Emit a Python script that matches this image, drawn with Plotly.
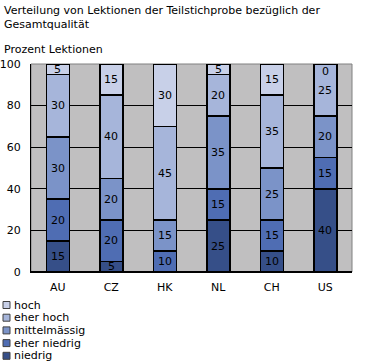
import plotly.graph_objects as go

countries = ["AU", "CZ", "HK", "NL", "CH", "US"]
series_names = ["niedrig", "eher niedrig", "mittelmässig", "eher hoch", "hoch"]
niedrig = [15, 5, 0, 25, 10, 40]
eher_niedrig = [20, 20, 10, 15, 15, 15]
mittelmaessig = [30, 20, 15, 35, 25, 20]
eher_hoch = [30, 40, 45, 20, 35, 25]
hoch = [5, 15, 30, 5, 15, 0]
series_values = [niedrig, eher_niedrig, mittelmaessig, eher_hoch, hoch]
colors = ["#364F88", "#4F6DB3", "#7B93C8", "#A6B5DA", "#C8D0E8"]
y_ticks = [0, 20, 40, 60, 80, 100]

FONT = "DejaVu Sans"
FS = 11

W, H = 367, 362
ML, MR, MT, MB = 31, 15, 64, 90
PH = H - MT - MB
PW = W - ML - MR

fig = go.Figure()
for name, vals, col in zip(series_names, series_values, colors):
    fig.add_trace(go.Bar(
        x=countries, y=vals, name=name,
        marker=dict(color=col, line=dict(color="black", width=1.5)),
        width=0.43, showlegend=False, hoverinfo="x+y+name",
    ))

annotations = []
# segment value labels
base = [0] * len(countries)
for vals in series_values:
    for i, v in enumerate(vals):
        if v > 0:
            annotations.append(dict(x=countries[i], y=base[i] + v / 2, text=str(v),
                                    showarrow=False, font=dict(family=FONT, size=FS, color="black"),
                                    xref="x", yref="y"))
        elif base[i] > 0:
            annotations.append(dict(x=countries[i], y=base[i], text=str(v), yanchor="top",
                                    showarrow=False, font=dict(family=FONT, size=FS, color="black"),
                                    xref="x", yref="y", yshift=1))
        base[i] += v

# titles
annotations.append(dict(text="Verteilung von Lektionen der Teilstichprobe bezüglich der<br>Gesamtqualität",
                        xref="paper", yref="paper", x=(2 - ML) / PW,
                        y=(H - MB - 2) / PH, xanchor="left", yanchor="top", align="left",
                        showarrow=False, font=dict(family=FONT, size=FS, color="black")))
annotations.append(dict(text="Prozent Lektionen", xref="paper", yref="paper",
                        x=(2 - ML) / PW, y=(H - MB - 41) / PH,
                        xanchor="left", yanchor="top", showarrow=False,
                        font=dict(family=FONT, size=FS, color="black")))

shapes = []
# frame (top/right gray)
shapes.append(dict(type="rect", xref="paper", yref="paper", x0=0, x1=1, y0=0, y1=1,
                   line=dict(color="#808080", width=1), layer="below"))

# manual legend (top-down: hoch ... niedrig)
leg_y0 = 305
for k, (name, col) in enumerate(zip(series_names[::-1], colors[::-1])):
    yc = leg_y0 + k * 12.7
    yp = (H - MB - yc) / PH
    shapes.append(dict(type="rect", xref="paper", yref="paper",
                       x0=(3 - ML) / PW, x1=(10 - ML) / PW,
                       y0=yp - 3.5 / PH, y1=yp + 3.5 / PH,
                       fillcolor=col, line=dict(color="#404040", width=1)))
    annotations.append(dict(text=name, xref="paper", yref="paper", x=(12 - ML) / PW, y=yp,
                            xanchor="left", yanchor="middle", showarrow=False,
                            font=dict(family=FONT, size=FS, color="black")))

fig.update_layout(
    width=W, height=H,
    margin=dict(l=ML, r=MR, t=MT, b=MB, pad=0, autoexpand=False),
    barmode="stack", bargap=0.57,
    paper_bgcolor="white", plot_bgcolor="#C0BFC0",
    font=dict(family=FONT, size=FS, color="black"),
    showlegend=False,
    xaxis=dict(showgrid=False, showline=True, linecolor="black", linewidth=1, automargin=False,
               ticks="", tickfont=dict(family=FONT, size=FS, color="black"),
               ticklabelstandoff=5),
    yaxis=dict(range=[0, 100], tickvals=y_ticks, showgrid=True, gridcolor="black", gridwidth=1,
               automargin=False,
               showline=True, linecolor="black", linewidth=1, zeroline=True, zerolinecolor="black",
               ticks="", tickfont=dict(family=FONT, size=FS, color="black"),
               ticklabelstandoff=7),
    annotations=annotations, shapes=shapes,
)

fig.write_html("out.html", config={"displayModeBar": False},
               post_script="document.body.style.margin='0';document.body.style.padding='0';")
